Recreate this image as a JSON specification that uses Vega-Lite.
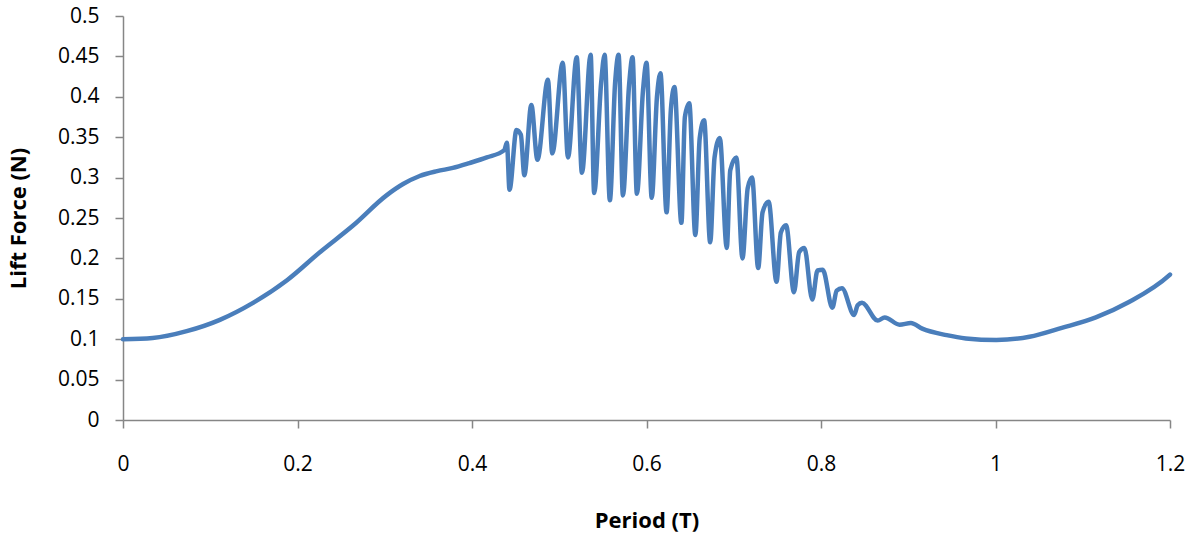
{
  "$schema": "https://vega.github.io/schema/vega-lite/v6.json",
  "width": 1047,
  "height": 404,
  "autosize": {"type": "none"},
  "padding": {"left": 123, "top": 16, "right": 20, "bottom": 118},
  "background": "white",
  "config": {"view": {"stroke": null}, "font": "Open Sans"},
  "data": {"values": [
    {"t": 0, "f": 0.1}, {"t": 0.034, "f": 0.1015}, {"t": 0.073, "f": 0.11}, {"t": 0.111, "f": 0.124},
    {"t": 0.149, "f": 0.145}, {"t": 0.188, "f": 0.173}, {"t": 0.226, "f": 0.208}, {"t": 0.264, "f": 0.241},
    {"t": 0.302, "f": 0.278}, {"t": 0.321, "f": 0.292}, {"t": 0.34, "f": 0.302}, {"t": 0.36, "f": 0.308},
    {"t": 0.378, "f": 0.312}, {"t": 0.397, "f": 0.318}, {"t": 0.417, "f": 0.325}, {"t": 0.437, "f": 0.334},
    {"t": 0.44, "f": 0.343}, {"t": 0.443, "f": 0.285}, {"t": 0.451, "f": 0.359}, {"t": 0.456, "f": 0.353},
    {"t": 0.46, "f": 0.303}, {"t": 0.468, "f": 0.39}, {"t": 0.475, "f": 0.322}, {"t": 0.487, "f": 0.421},
    {"t": 0.492, "f": 0.33}, {"t": 0.504, "f": 0.442}, {"t": 0.51, "f": 0.325}, {"t": 0.52, "f": 0.449},
    {"t": 0.526, "f": 0.306}, {"t": 0.536, "f": 0.452}, {"t": 0.54, "f": 0.281}, {"t": 0.548, "f": 0.417},
    {"t": 0.552, "f": 0.452}, {"t": 0.558, "f": 0.272}, {"t": 0.564, "f": 0.417}, {"t": 0.568, "f": 0.452},
    {"t": 0.573, "f": 0.278}, {"t": 0.58, "f": 0.414}, {"t": 0.584, "f": 0.449}, {"t": 0.589, "f": 0.28},
    {"t": 0.596, "f": 0.408}, {"t": 0.6, "f": 0.442}, {"t": 0.606, "f": 0.275}, {"t": 0.612, "f": 0.4},
    {"t": 0.616, "f": 0.429}, {"t": 0.623, "f": 0.257}, {"t": 0.628, "f": 0.385}, {"t": 0.632, "f": 0.412},
    {"t": 0.64, "f": 0.244}, {"t": 0.644, "f": 0.375}, {"t": 0.649, "f": 0.392}, {"t": 0.656, "f": 0.229},
    {"t": 0.661, "f": 0.349}, {"t": 0.666, "f": 0.371}, {"t": 0.673, "f": 0.22}, {"t": 0.678, "f": 0.325},
    {"t": 0.684, "f": 0.349}, {"t": 0.692, "f": 0.213}, {"t": 0.696, "f": 0.309}, {"t": 0.703, "f": 0.325},
    {"t": 0.71, "f": 0.2}, {"t": 0.716, "f": 0.287}, {"t": 0.721, "f": 0.3}, {"t": 0.728, "f": 0.188},
    {"t": 0.733, "f": 0.257}, {"t": 0.74, "f": 0.27}, {"t": 0.749, "f": 0.171}, {"t": 0.754, "f": 0.232},
    {"t": 0.76, "f": 0.241}, {"t": 0.769, "f": 0.158}, {"t": 0.775, "f": 0.208}, {"t": 0.781, "f": 0.213},
    {"t": 0.79, "f": 0.149}, {"t": 0.796, "f": 0.185}, {"t": 0.802, "f": 0.186}, {"t": 0.813, "f": 0.139},
    {"t": 0.818, "f": 0.16}, {"t": 0.824, "f": 0.163}, {"t": 0.838, "f": 0.13}, {"t": 0.842, "f": 0.142},
    {"t": 0.847, "f": 0.145}, {"t": 0.865, "f": 0.123}, {"t": 0.873, "f": 0.127}, {"t": 0.89, "f": 0.118},
    {"t": 0.903, "f": 0.12}, {"t": 0.916, "f": 0.113}, {"t": 0.944, "f": 0.105}, {"t": 0.966, "f": 0.101},
    {"t": 1.001, "f": 0.099}, {"t": 1.039, "f": 0.103}, {"t": 1.076, "f": 0.114}, {"t": 1.115, "f": 0.127},
    {"t": 1.153, "f": 0.146}, {"t": 1.199, "f": 0.179}, {"t": 1.2, "f": 0.18}
  ]},
  "mark": {"type": "line", "color": "#4A7EBB", "strokeWidth": 4.5, "strokeJoin": "round", "strokeCap": "round", "interpolate": "monotone"},
  "encoding": {
    "x": {
      "field": "t", "type": "quantitative",
      "scale": {"domain": [0, 1.2], "nice": false, "zero": false},
      "axis": {
        "values": [0, 0.2, 0.4, 0.6, 0.8, 1, 1.2], "format": "~g", "grid": false, "labelFlush": false,
        "title": "Period (T)", "domainColor": "#868686", "tickColor": "#868686", "domainWidth": 1.5, "tickWidth": 1.5,
        "tickSize": 8, "labelPadding": 25, "labelFontSize": 21, "labelColor": "#000000", "labelFont": "Open Sans",
        "titleFontSize": 22, "titleFontWeight": "bold", "titleColor": "#000000", "titlePadding": 36, "titleFont": "Open Sans"
      }
    },
    "y": {
      "field": "f", "type": "quantitative",
      "scale": {"domain": [0, 0.5], "nice": false},
      "axis": {
        "values": [0, 0.05, 0.1, 0.15, 0.2, 0.25, 0.3, 0.35, 0.4, 0.45, 0.5], "format": "~g", "grid": false,
        "title": "Lift Force (N)", "domainColor": "#868686", "tickColor": "#868686", "domainWidth": 1.5, "tickWidth": 1.5,
        "tickSize": 8, "labelPadding": 16, "labelFontSize": 21, "labelColor": "#000000", "labelFont": "Open Sans",
        "titleFontSize": 22, "titleFontWeight": "bold", "titleColor": "#000000", "titlePadding": 27, "titleFont": "Open Sans"
      }
    }
  }
}
